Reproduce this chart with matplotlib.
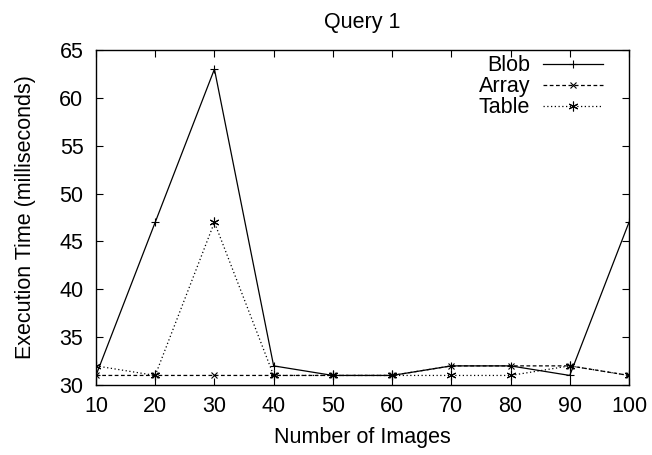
import numpy as np
import matplotlib
matplotlib.use("Agg")
import matplotlib.pyplot as plt

plt.rcParams['font.family'] = ['Liberation Sans', 'DejaVu Sans']

images = [10, 20, 30, 40, 50, 60, 70, 80, 90, 100]
blob = [31, 47, 63, 32, 31, 31, 32, 32, 31, 47]
array = [31, 31, 31, 31, 31, 31, 32, 32, 32, 31]
table = [32, 31, 47, 31, 31, 31, 31, 31, 32, 31]

fs = 15.5

fig = plt.figure(figsize=(6.52, 4.55), dpi=100)
ax = fig.add_axes([0.1472, 0.1538, 0.8175, 0.7363])

ax.plot(images, blob, color='black', lw=0.9, ls='-', marker='+', ms=6, mew=0.8, label='Blob')
ax.plot(images, array, color='black', lw=0.9, ls=(0, (3, 2)), marker='x', ms=5, mew=0.8, label='Array')
ax.plot(images, table, color='black', lw=0.9, ls=(0, (1, 2)), marker=(6, 2, 0), ms=7, mew=0.8, label='Table')

ax.set_xlim(10, 100)
ax.set_ylim(30, 65)
ax.set_xticks(images)
ax.set_yticks(np.arange(30, 66, 5))
ax.tick_params(direction='in', top=True, right=True, length=5, labelsize=fs)
ax.tick_params(axis='x', pad=8)
ax.tick_params(axis='y', pad=9)
for s in ax.spines.values():
    s.set_linewidth(1.0)

ax.set_xlabel("Number of Images", fontsize=fs)
ax.set_ylabel("Execution Time (milliseconds)", fontsize=fs)
ax.xaxis.set_label_coords(0.5, -0.125)
ax.yaxis.set_label_coords(-0.112, 0.5)
ax.set_title("Query 1", fontsize=fs, pad=16)

ax.legend(loc='upper right', bbox_to_anchor=(0.968, 1.01), frameon=False,
          markerfirst=False, fontsize=fs, handlelength=2.8, labelspacing=0.0,
          borderaxespad=0.2, borderpad=0.2, handletextpad=0.6)

fig.savefig("out.png", dpi=100)
